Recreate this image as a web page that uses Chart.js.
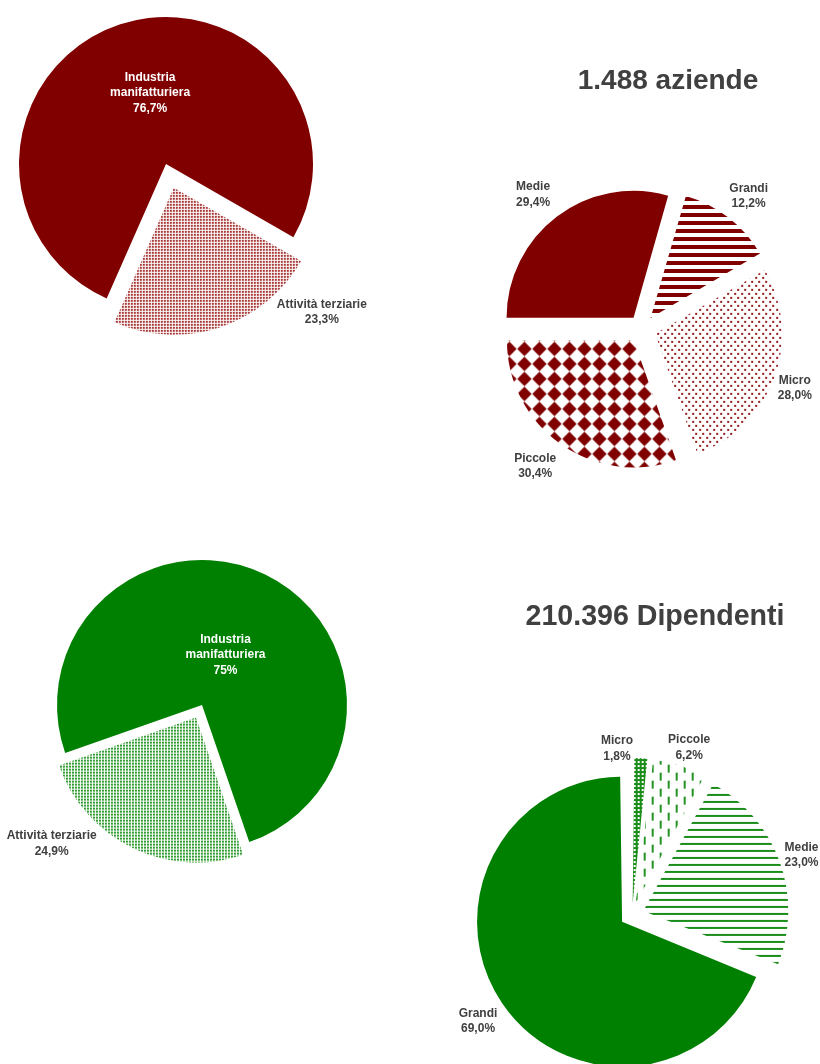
<!DOCTYPE html>
<html><head><meta charset="utf-8">
<script src="https://cdn.jsdelivr.net/npm/chart.js@4.4.1/dist/chart.umd.min.js"></script>
<style>
html,body{margin:0;padding:0;background:#fff;}
#wrap{position:relative;width:820px;height:1064px;overflow:hidden;background:#fff;}
canvas{position:absolute;left:0;top:0;}
.title{position:absolute;font-family:"Liberation Sans",Arial,sans-serif;font-weight:bold;font-size:28px;color:#404040;white-space:nowrap;transform:translate(-50%,-50%);line-height:1;}
</style></head><body>
<div id="wrap">
<canvas id="c1" width="820" height="1064"></canvas>
<canvas id="c2" width="820" height="1064"></canvas>
<canvas id="c3" width="820" height="1064"></canvas>
<canvas id="c4" width="820" height="1064"></canvas>
<div class="title" id="t1" style="left:668px;top:80px"></div>
<div class="title" id="t2" style="left:655px;top:615px;font-size:28.6px"></div>
</div>
<script>
// ---------- DATA ----------
const chartTitles = ['1.488 aziende', '210.396 Dipendenti'];

const sectorCategories = [['Industria', 'manifatturiera'], 'Attività terziarie'];
const sectorValuesAziende = [76.7, 23.3];
const sectorPctAziende = ['76,7%', '23,3%'];

const sizeCategoriesAziende = ['Medie', 'Grandi', 'Micro', 'Piccole'];
const sizeValuesAziende = [29.4, 12.2, 28.0, 30.4];
const sizePctAziende = ['29,4%', '12,2%', '28,0%', '30,4%'];

const sectorValuesDipendenti = [75, 24.9];
const sectorPctDipendenti = ['75%', '24,9%'];

const sizeCategoriesDipendenti = ['Micro', 'Piccole', 'Medie', 'Grandi'];
const sizeValuesDipendenti = [1.8, 6.2, 23.0, 69.0];
const sizePctDipendenti = ['1,8%', '6,2%', '23,0%', '69,0%'];

// ---------- STYLES ----------
document.getElementById('t1').textContent = chartTitles[0];
document.getElementById('t2').textContent = chartTitles[1];

const RED = '#800000', GREEN = '#008000';

function tile(w, h, draw) {
  const c = document.createElement('canvas');
  c.width = w; c.height = h;
  const x = c.getContext('2d');
  x.fillStyle = '#ffffff'; x.fillRect(0, 0, w, h);
  draw(x);
  return x.createPattern(c, 'repeat');
}
const fineDots = col => tile(3, 3, x => { x.fillStyle = col; x.fillRect(0, 0, 2, 2); });
const hStripes = (col, on, period) => tile(4, period, x => { x.fillStyle = col; x.fillRect(0, 0, 4, on); });
const sparseDots = col => tile(7, 8, x => { x.fillStyle = col; x.fillRect(0, 0, 2, 2); x.fillRect(3, 4, 2, 2); });
const diamonds = col => tile(15, 15, x => {
  x.fillStyle = col; x.beginPath();
  x.moveTo(7.5, 0.3); x.lineTo(14.7, 7.5); x.lineTo(7.5, 14.7); x.lineTo(0.3, 7.5); x.closePath(); x.fill();
});
const holes = col => tile(4, 4, x => { x.fillStyle = col; x.fillRect(0, 0, 4, 4); x.fillStyle = '#fff'; x.fillRect(1, 1, 2, 2); });
const vDashes = col => tile(16, 16, x => { x.fillStyle = col; x.fillRect(0, 0, 2, 8); x.fillRect(8, 8, 2, 8); });

// compensates Chart.js' radius growth of small exploded arcs
const radiusFix = {
  id: 'radiusFix',
  afterDatasetsUpdate(chart, args, opts) {
    chart.getDatasetMeta(0).data.forEach(arc => {
      const off = (arc.options.offset || 0) / 4;
      const circ = arc.endAngle - arc.startAngle;
      const fix = 1 - Math.sin(Math.min(Math.PI, circ));
      arc.outerRadius = opts.radius - off * fix;
    });
  }
};

const sliceLabels = {
  id: 'sliceLabels',
  afterDatasetsDraw(chart, args, opts) {
    const meta = chart.getDatasetMeta(0);
    const ctx = chart.ctx;
    ctx.save();
    ctx.font = 'bold 12px "Liberation Sans", Arial, sans-serif';
    ctx.textAlign = 'center';
    ctx.textBaseline = 'middle';
    meta.data.forEach((arc, i) => {
      const p = opts.place[i];
      const a = (arc.startAngle + arc.endAngle) / 2 + p[0] * Math.PI / 180;
      const x = arc.x + Math.cos(a) * p[1] * opts.radius;
      const y = arc.y + Math.sin(a) * p[1] * opts.radius;
      const cat = chart.data.labels[i];
      const lines = (Array.isArray(cat) ? cat : [cat]).concat([opts.pct[i]]);
      ctx.fillStyle = p[2] || '#404040';
      const lh = 15.5;
      lines.forEach((t, j) => ctx.fillText(t, x, y + (j - (lines.length - 1) / 2) * lh));
    });
    ctx.restore();
  }
};

function makePie(id, labels, values, colors, offsets, rotation, center, R, place, pct) {
  const s = 100;
  const pad = {left: center[0] - s, right: 820 - center[0] - s, top: center[1] - s, bottom: 1064 - center[1] - s};
  return new Chart(document.getElementById(id), {
    type: 'pie',
    data: {labels: labels, datasets: [{data: values, backgroundColor: colors, offset: offsets,
      borderWidth: 0, clip: false, radius: R, hoverOffset: 0}]},
    options: {
      responsive: false, animation: false, events: [], devicePixelRatio: 1,
      rotation: rotation, layout: {padding: pad},
      plugins: {legend: {display: false}, tooltip: {enabled: false}, title: {display: false},
        radiusFix: {radius: R}, sliceLabels: {radius: R, place: place, pct: pct}}
    },
    plugins: [radiusFix, sliceLabels]
  });
}

makePie('c1', sectorCategories, sectorValuesAziende,
  [RED, fineDots('#a83838')], [0, 100], 203.8, [166, 164], 147,
  [[5.5, 0.495, '#ffffff'], [-28.3, 1.463]], sectorPctAziende);

makePie('c2', sizeCategoriesAziende, sizeValuesAziende,
  [RED, hStripes(RED, 4, 8), sparseDots('#961c1c'), diamonds(RED)], [56, 56, 56, 56], 270, [642, 329], 127,
  [[-2, 1.36], [1, 1.34], [1, 1.29], [2.6, 1.37]], sizePctAziende);

makePie('c3', sectorCategories, sectorValuesDipendenti,
  [GREEN, fineDots('#2f9a2f')], [0, 56], 250.7, [202, 705], 145,
  [[-0.6, 0.38, '#ffffff'], [21.5, 1.41]], sectorPctDipendenti);

makePie('c4', sizeCategoriesDipendenti, sizeValuesDipendenti,
  [holes('#1a8c1a'), vDashes('#1f951f'), hStripes('#1a8c1a', 2, 7), GREEN], [48, 48, 48, 48], 0, [632, 915], 145,
  [[-8.4, 1.15], [1.2, 1.22], [0.3, 1.24], [-0.4, 1.29]], sizePctDipendenti);
</script>
</body></html>
